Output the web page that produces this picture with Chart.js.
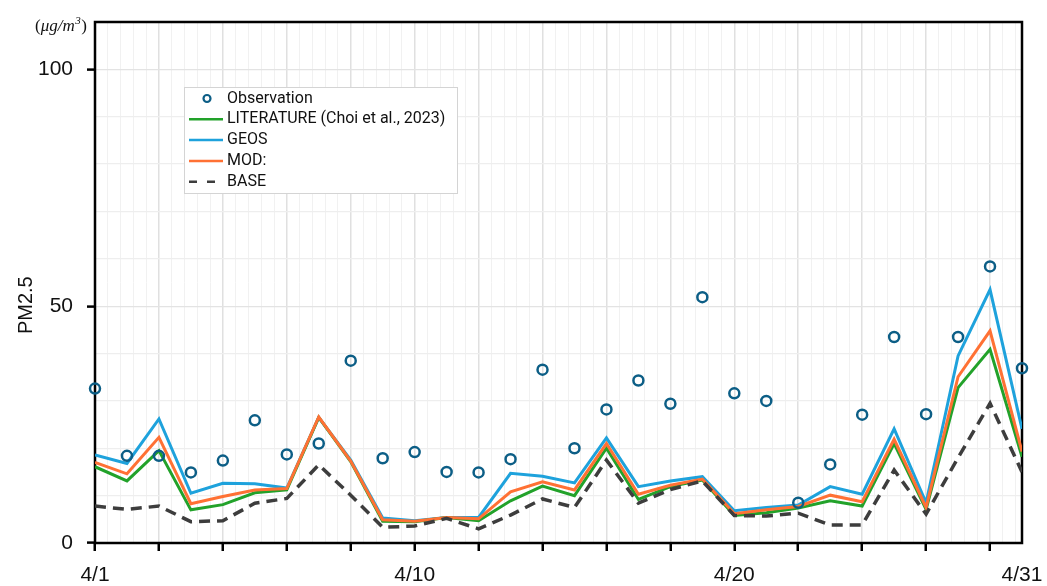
<!DOCTYPE html>
<html>
<head>
<meta charset="utf-8">
<script src="https://cdn.jsdelivr.net/npm/chart.js@4.4.1/dist/chart.umd.min.js"></script>
<style>
  html, body { margin: 0; padding: 0; background: #fff; }
  #c { display: block; }
</style>
</head>
<body>
<canvas id="c" width="1047" height="586"></canvas>
<script>
// Daily PM2.5 (µg/m³), one value per day of the month
const observation = [32.6, 18.4, 18.4, 14.9, 17.4, 25.9, 18.7, 21.0, 38.5, 17.9,
                     19.2, 15.0, 14.9, 17.7, 36.6, 20.0, 28.2, 34.3, 29.4, 51.9,
                     31.6, 30.0, 8.5, 16.6, 27.1, 43.5, 27.2, 43.5, 58.4, 36.9];
const literature  = [16.1, 13.1, 19.5, 7.0, 8.1, 10.6, 11.2, 26.5, 17.2, 4.6,
                     4.5, 5.4, 4.7, 8.9, 12.0, 10.0, 20.0, 9.2, 11.9, 13.3,
                     5.8, 6.4, 7.4, 8.9, 7.8, 21.0, 7.1, 32.8, 40.9, 18.2];
const geos        = [18.6, 16.8, 26.2, 10.5, 12.6, 12.5, 11.6, 26.5, 17.5, 5.3,
                     4.7, 5.4, 5.4, 14.7, 14.1, 12.7, 22.2, 11.9, 13.1, 14.0,
                     6.8, 7.5, 8.0, 11.9, 10.3, 24.1, 8.5, 39.5, 53.5, 24.1];
const mod         = [17.0, 14.6, 22.3, 8.3, 9.8, 11.2, 11.5, 26.6, 17.3, 4.9,
                     4.6, 5.4, 5.1, 10.8, 12.9, 11.2, 21.0, 10.3, 12.2, 13.5,
                     6.2, 7.0, 7.7, 10.1, 8.7, 21.9, 7.5, 35.1, 44.8, 19.3];
const base        = [7.8, 7.1, 7.8, 4.5, 4.7, 8.4, 9.4, 16.5, 10.1, 3.3,
                     3.6, 5.2, 3.0, 5.9, 9.3, 7.5, 17.5, 8.4, 11.3, 13.1,
                     5.8, 5.7, 6.3, 3.8, 3.8, 15.4, 6.1, 18.0, 29.5, 15.0];

// Date labels and the day index they sit on
const dateLabels    = ['4/1', '4/10', '4/20', '4/31'];
const dateLabelDays = [0, 10, 20, 29];
const yTickLabels   = [0, 50, 100];

const seriesNames = ['Observation', 'LITERATURE (Choi et al., 2023)', 'GEOS', 'MOD:', 'BASE'];

const toPoints = arr => arr.map((v, i) => ({ x: i, y: v }));
const isMajorDay = v => Math.abs(v / 2 - Math.round(v / 2)) < 1e-9;

const TICK_FONT = { family: '"Liberation Sans", Arial, sans-serif', size: 21 };

// Plot frame, drawn under the data
const framePlugin = {
  id: 'frame',
  beforeDatasetsDraw(chart) {
    const { ctx, chartArea: a } = chart;
    ctx.save();
    ctx.strokeStyle = '#000';
    ctx.lineWidth = 2.5;
    ctx.strokeRect(a.left, a.top, a.right - a.left, a.bottom - a.top);
    ctx.restore();
  }
};

// Axis title, unit and the boxed legend
const annotationPlugin = {
  id: 'annotations',
  afterDraw(chart) {
    const { ctx, scales: { y } } = chart;
    ctx.save();

    // y-axis title
    ctx.save();
    ctx.translate(32, y.getPixelForValue(50) - 1);
    ctx.rotate(-Math.PI / 2);
    ctx.font = '20px "Liberation Sans", Arial, sans-serif';
    ctx.fillStyle = '#111';
    ctx.textAlign = 'center';
    ctx.textBaseline = 'alphabetic';
    ctx.fillText('PM2.5', 0, 0);
    ctx.restore();

    // unit (µg/m³)
    let ux = 35;
    const uy = 31;
    ctx.fillStyle = '#111';
    ctx.textBaseline = 'alphabetic';
    ctx.textAlign = 'left';
    ctx.font = '17px "Liberation Serif", serif';
    ctx.fillText('(', ux, uy);
    ux += ctx.measureText('(').width;
    ctx.font = 'italic 17px "Liberation Serif", serif';
    ctx.fillText('μg/m', ux, uy);
    ux += ctx.measureText('μg/m').width + 0.5;
    ctx.font = 'italic 11px "Liberation Serif", serif';
    ctx.fillText('3', ux, uy - 7);
    ux += ctx.measureText('3').width + 0.5;
    ctx.font = '17px "Liberation Serif", serif';
    ctx.fillText(')', ux, uy);

    // legend
    const box = { x: 184, y: 87, w: 273, h: 106 };
    ctx.fillStyle = '#fff';
    ctx.fillRect(box.x, box.y, box.w, box.h);
    ctx.strokeStyle = '#d4d4d4';
    ctx.lineWidth = 1;
    ctx.strokeRect(box.x + 0.5, box.y + 0.5, box.w, box.h);

    const rowY0 = 98.5, rowStep = 20.8;
    const sx0 = 189, sx1 = 223, tx = 227;
    ctx.font = '16px Roboto, "Liberation Sans", sans-serif';
    ctx.textBaseline = 'middle';
    seriesNames.forEach((name, r) => {
      const ds = chart.data.datasets.find(d => d.label === name);
      const cy = rowY0 + r * rowStep;
      ctx.save();
      if (ds.showLine === false) {
        ctx.strokeStyle = ds.borderColor;
        ctx.lineWidth = 2.2;
        ctx.beginPath();
        ctx.arc((sx0 + sx1) / 2 + 1, cy, 3.5, 0, Math.PI * 2);
        ctx.stroke();
      } else {
        ctx.strokeStyle = ds.borderColor;
        ctx.lineWidth = 2.5;
        ctx.setLineDash(ds.borderDash && ds.borderDash.length ? [8, 10] : []);
        ctx.beginPath();
        ctx.moveTo(sx0, cy);
        ctx.lineTo(sx1, cy);
        ctx.stroke();
      }
      ctx.restore();
      ctx.fillStyle = '#111';
      ctx.fillText(name, tx, cy);
    });

    ctx.restore();
  }
};

const lineDefaults = {
  showLine: true,
  pointRadius: 0,
  pointHoverRadius: 0,
  borderWidth: 3,
  tension: 0,
  fill: false
};

new Chart(document.getElementById('c'), {
  type: 'line',
  data: {
    datasets: [
      {
        label: seriesNames[0], data: toPoints(observation), order: 0,
        showLine: false, pointStyle: 'circle', pointRadius: 5, pointHoverRadius: 5,
        pointBorderWidth: 2.5, borderColor: '#0c5e86', pointBorderColor: '#0c5e86',
        backgroundColor: 'rgba(0,0,0,0)', pointBackgroundColor: 'rgba(0,0,0,0)', clip: false
      },
      Object.assign({}, lineDefaults, {
        label: seriesNames[4], data: toPoints(base), order: 1,
        borderColor: '#3d3d3d', borderDash: [11, 7], borderWidth: 3.5
      }),
      Object.assign({}, lineDefaults, {
        label: seriesNames[3], data: toPoints(mod), order: 2, borderColor: '#ff7134'
      }),
      Object.assign({}, lineDefaults, {
        label: seriesNames[1], data: toPoints(literature), order: 3, borderColor: '#22a22a'
      }),
      Object.assign({}, lineDefaults, {
        label: seriesNames[2], data: toPoints(geos), order: 4, borderColor: '#1ea2dc'
      })
    ]
  },
  options: {
    responsive: false,
    animation: false,
    devicePixelRatio: 1,
    layout: { padding: { left: 0, right: 25, top: 22, bottom: 0 } },
    plugins: { legend: { display: false }, tooltip: { enabled: false } },
    scales: {
      x: {
        type: 'linear',
        min: 0,
        max: 29,
        afterBuildTicks(scale) {
          const t = [];
          for (let k = 0; k <= 72; k++) t.push({ value: Math.round(k * 4) / 10 });
          t.push({ value: 29 });
          scale.ticks = t;
        },
        afterFit(scale) {
          scale.height = 43;
          scale.paddingLeft = 0;
          scale.paddingRight = 0;
        },
        ticks: {
          autoSkip: false,
          maxRotation: 0,
          minRotation: 0,
          padding: 12,
          font: TICK_FONT,
          color: '#111',
          callback(v) {
            const i = dateLabelDays.findIndex(d => Math.abs(d - v) < 1e-6);
            return i >= 0 ? dateLabels[i] : '';
          }
        },
        grid: {
          drawTicks: true,
          tickLength: 8,
          tickWidth: 2.5,
          color: c => (c.tick && isMajorDay(c.tick.value)) ? '#e0e0e0' : '#f1f1f1',
          lineWidth: c => (c.tick && isMajorDay(c.tick.value)) ? 1.5 : 1,
          tickColor: c => (c.tick && isMajorDay(c.tick.value) && c.tick.value < 29) ? '#000' : 'rgba(0,0,0,0)'
        },
        border: { display: false }
      },
      y: {
        min: 0,
        max: 110,
        afterFit(scale) {
          scale.width = 95;
          scale.paddingTop = 0;
          scale.paddingBottom = 0;
        },
        ticks: {
          stepSize: 10,
          padding: 14,
          font: TICK_FONT,
          color: '#111',
          callback: v => yTickLabels.includes(v) ? String(v) : ''
        },
        grid: {
          drawTicks: true,
          tickLength: 8,
          tickWidth: 2.5,
          color: c => (c.tick && c.tick.value % 50 === 0) ? '#e3e3e3' : '#eeeeee',
          lineWidth: 1.2,
          tickColor: c => (c.tick && yTickLabels.includes(c.tick.value)) ? '#000' : 'rgba(0,0,0,0)'
        },
        border: { display: false }
      }
    }
  },
  plugins: [framePlugin, annotationPlugin]
});
</script>
</body>
</html>
